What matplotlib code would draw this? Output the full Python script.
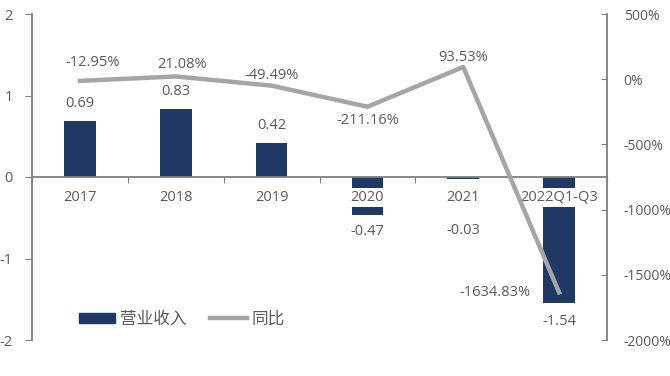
import numpy as np
import matplotlib.pyplot as plt
from matplotlib.patches import Patch
from matplotlib.lines import Line2D

plt.rcParams['font.family'] = ['Open Sans', 'Noto Sans CJK SC', 'DejaVu Sans']

# data
years = ['2017', '2018', '2019', '2020', '2021', '2022Q1-Q3']
revenue = [0.69, 0.83, 0.42, -0.47, -0.03, -1.54]
yoy = [-12.95, 21.08, -49.49, -211.16, 93.53, -1634.83]
yoy_labels = ['-12.95%', '21.08%', '-49.49%', '-211.16%', '93.53%', '-1634.83%']

bar_color = '#1F3864'
line_color = '#A5A5A5'
text_color = '#595959'
axis_color = '#7F7F7F'

fig = plt.figure(figsize=(6.7, 3.76), dpi=100)
ax = fig.add_axes([32 / 670, 36 / 376, 575 / 670, 326 / 376])
ax2 = ax.twinx()

x = np.arange(len(years))
ax.bar(x, revenue, width=0.33, color=bar_color, zorder=2)
ax.set_xlim(-0.5, 5.5)
ax.set_ylim(-2, 2)
ax.set_yticks([-2, -1, 0, 1, 2])
ax.set_yticklabels(['-2', '-1', '0', '1', '2'])

# axis styling
for s in ['top', 'right']:
    ax.spines[s].set_visible(False)
ax.spines['left'].set_color(axis_color)
ax.spines['left'].set_linewidth(1.3)
ax.spines['bottom'].set_position(('data', 0))
ax.spines['bottom'].set_color(axis_color)
ax.spines['bottom'].set_linewidth(1.3)
ax.set_xticks(np.arange(-0.5, 6, 1))
ax.set_xticklabels([])
ax.tick_params(axis='x', length=4, color=axis_color, direction='out')
ax.tick_params(axis='y', length=5, color=axis_color, direction='out',
               labelsize=10.5, labelcolor=text_color, pad=9)

# category labels sitting on the zero line with white background
for i, lab in enumerate(years):
    ax.text(i, -0.25, lab, ha='center', va='center', fontsize=10.5, color=text_color,
            bbox=dict(boxstyle='square,pad=0.15', fc='white', ec='none'), zorder=3)

# bar value labels
bar_off = [-17, -18, -17, 16, 51, 19]
for i, v in enumerate(revenue):
    ax.annotate(f'{v:.2f}', (i, v), xytext=(0, -bar_off[i]), textcoords='offset pixels',
                ha='center', va='center', fontsize=10.5, color=text_color, zorder=4)

# yoy line on right axis
ax2.plot(x, yoy, color=line_color, linewidth=3.2, zorder=5)
ax2.set_ylim(-2000, 500)
ax2.set_yticks([-2000, -1500, -1000, -500, 0, 500])
ax2.set_yticklabels(['-2000%', '-1500%', '-1000%', '-500%', '0%', '500%'])
for s in ['top', 'left', 'bottom']:
    ax2.spines[s].set_visible(False)
ax2.spines['right'].set_color(axis_color)
ax2.spines['right'].set_linewidth(1.3)
ax2.tick_params(axis='y', length=4, color=axis_color, direction='in',
                labelsize=10, labelcolor=text_color, pad=12)

line_off = [(13, 18), (6, 12), (0, 10), (0, -14), (0, 10), (-64, 0)]
for i, v in enumerate(yoy):
    ax2.annotate(yoy_labels[i], (i, v), xytext=line_off[i], textcoords='offset pixels',
                 ha='center', va='center', fontsize=10.5, color=text_color)

handles = [Patch(color=bar_color), Line2D([0], [0], color=line_color, linewidth=3.2)]
ax2.legend(handles, ['营业收入', '同比'], loc='center left', bbox_to_anchor=(0.055, 0.062),
           ncol=2, frameon=False, fontsize=12, handlelength=2.2, handleheight=0.5,
           columnspacing=1.4, handletextpad=0.3, labelcolor=text_color)

fig.savefig('out.png', dpi=100, facecolor='white')
